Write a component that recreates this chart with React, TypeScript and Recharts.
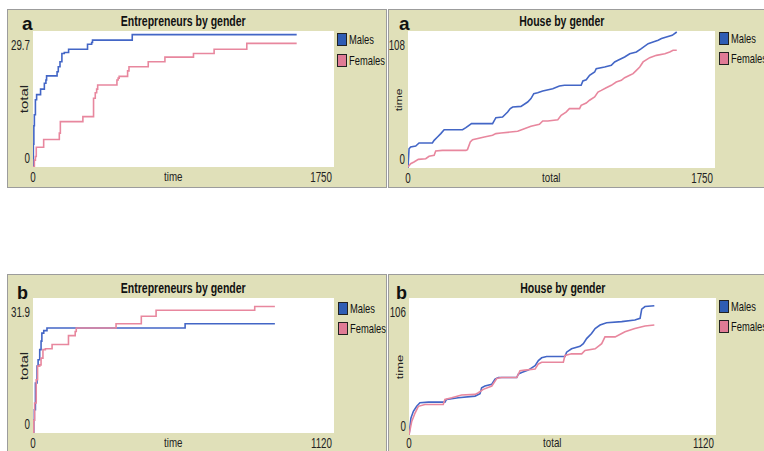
import React from 'react';
import { LineChart, Line, XAxis, YAxis, CartesianGrid } from 'recharts';

// [time, value] pairs
const ENT_A_MALES: [number, number][] = [
  [0, 0], [2, 5], [5, 9], [8, 11.4], [14, 14.7], [21, 15.8], [44, 17.0], [66, 18.3], [75, 19.0],
  [79, 19.9], [140, 20.8], [147, 21.9], [157, 23.0], [168, 24.8], [182, 25.0], [207, 25.7],
  [317, 26.8], [341, 27.2], [346, 27.7], [577, 28.9], [1533, 28.9],
];
const ENT_A_FEMALES: [number, number][] = [
  [0, 0], [8, 1.5], [14, 2.3], [19, 4.3], [62, 6.0], [153, 7.4], [159, 9.9], [290, 11.0],
  [352, 15.0], [362, 16.2], [370, 17.0], [376, 17.9], [488, 19.0], [495, 19.4], [501, 19.8],
  [550, 21.0], [558, 21.9], [670, 23.0], [767, 24.0], [933, 24.8], [1053, 25.7], [1243, 27.0],
  [1533, 27.0],
];
const HOUSE_A_MALES: [number, number][] = [
  [0, 0], [6, 15.2], [15, 16.6], [44, 17.3], [63, 19.7], [139, 19.7], [149, 21.8], [168, 24.4],
  [187, 27.1], [206, 30.2], [311, 30.2], [330, 31.8], [362, 35.0], [482, 35.0], [501, 39.7],
  [539, 40.2], [568, 44.1], [583, 46.8], [597, 48.1], [644, 48.6], [682, 52.0], [701, 54.7],
  [717, 58.6], [739, 59.4], [768, 60.7], [825, 62.5], [863, 64.6], [892, 65.2], [987, 65.2],
  [997, 68.6], [1016, 69.6], [1035, 73.1], [1064, 75.7], [1073, 78.3], [1121, 79.6],
  [1159, 80.9], [1178, 83.6], [1197, 84.9], [1235, 87.5], [1264, 90.1], [1302, 91.5],
  [1330, 94.1], [1369, 98.0], [1397, 99.3], [1426, 100.7], [1445, 102.0], [1473, 103.3],
  [1506, 104.6], [1532, 107.2],
];
const HOUSE_A_FEMALES: [number, number][] = [
  [0, 0.8], [15, 3.4], [34, 4.7], [59, 6.8], [101, 7.3], [120, 9.2], [149, 10.0], [158, 13.4],
  [196, 13.9], [330, 13.9], [339, 14.5], [355, 20.5], [368, 22.3], [435, 24.4], [482, 25.8],
  [501, 27.1], [530, 27.6], [625, 28.9], [663, 31.0], [701, 32.9], [749, 34.4], [768, 37.1],
  [797, 37.1], [854, 38.1], [873, 41.5], [901, 44.1], [920, 46.8], [978, 46.8], [987, 49.4],
  [1016, 51.2], [1035, 53.4], [1064, 56.0], [1083, 59.9], [1102, 61.2], [1130, 63.3],
  [1159, 65.2], [1187, 67.8], [1216, 69.1], [1235, 71.2], [1264, 73.1], [1283, 74.4],
  [1302, 77.0], [1321, 79.6], [1340, 83.6], [1378, 87.0], [1416, 88.8], [1464, 90.1],
  [1492, 91.5], [1511, 92.8], [1532, 92.8],
];
const ENT_B_MALES: [number, number][] = [
  [0, 0], [3, 3], [5, 5.5], [9, 11.8], [15, 15.8], [19, 17.3], [25, 19.7], [30, 21.7],
  [33, 23.6], [40, 24.2], [52, 24.8], [566, 25.8], [900, 25.8],
];
const ENT_B_FEMALES: [number, number][] = [
  [0, 0], [3, 3], [6, 7.1], [12, 12.6], [17, 15.8], [25, 16.1], [30, 17.7], [37, 19.7],
  [46, 19.9], [71, 20.9], [132, 23.0], [157, 24.0], [161, 24.8], [309, 25.8], [403, 27.6],
  [458, 29.0], [825, 29.9], [900, 29.9],
];
const HOUSE_B_MALES: [number, number][] = [
  [0, 0], [7, 13.1], [16, 18.3], [28, 22.2], [40, 24.9], [71, 25.4], [131, 25.4], [137, 27.5],
  [180, 28.8], [241, 30.1], [259, 31.9], [265, 36.6], [277, 37.9], [302, 39.3], [314, 43.2],
  [326, 44.5], [393, 44.5], [399, 47.1], [411, 48.4], [435, 50.2], [460, 53.6], [472, 57.6],
  [484, 59.7], [502, 60.7], [569, 60.7], [575, 64.1], [593, 66.7], [624, 68.6], [636, 70.7],
  [648, 74.6], [666, 78.5], [679, 82.4], [697, 85.1], [721, 86.9], [776, 87.7], [824, 89.0],
  [843, 90.3], [849, 97.4], [861, 99.4], [895, 100.0],
];
const HOUSE_B_FEMALES: [number, number][] = [
  [0, 0], [10, 10.5], [22, 17.0], [34, 22.2], [58, 23.6], [125, 23.6], [131, 27.5],
  [156, 28.8], [192, 30.9], [241, 31.4], [253, 32.7], [271, 35.3], [302, 37.9], [320, 43.7],
  [338, 44.5], [393, 44.5], [405, 49.7], [423, 50.2], [460, 51.0], [472, 55.0], [484, 56.3],
  [563, 56.3], [569, 61.5], [593, 62.8], [630, 62.8], [642, 65.4], [679, 66.7], [703, 70.7],
  [715, 75.9], [752, 75.9], [776, 78.5], [788, 79.8], [824, 82.4], [861, 84.3], [895, 85.1],
];

const X_TICKS_A = [0, 1750];
const X_TICKS_B = [0, 1120];
const Y_TICKS_ENT_A = [0, 29.7];
const Y_TICKS_HOUSE_A = [0, 108];
const Y_TICKS_ENT_B = [0, 31.9];
const Y_TICKS_HOUSE_B = [0, 106];
const SERIES_NAMES = ['Males', 'Females'];

const BLUE = '#4366c6';
const PINK = '#e8879e';
const BLUE_SWATCH = '#2f5db4';
const PINK_SWATCH = '#e07b95';
const BEIGE = '#e0e0b9';
const FONT = '"Liberation Sans", Arial, sans-serif';

const ML = 40;
const MT = 14;
const MR = 10;
const XH = 25;

const toRows = (pairs: [number, number][]) => pairs.map(([t, v]) => ({ t, v }));

// the screenshot is squeezed sideways, so text is narrowed to match
const Squeezed = ({ children, origin, k }: { children: React.ReactNode; origin: string; k: number }) => (
  <span style={{ display: 'inline-block', transform: `scaleX(${k})`, transformOrigin: origin }}>{children}</span>
);

interface PanelProps {
  letter: string;
  title: string;
  xTitle: string;
  yTitle: string;
  yTitleSize: number;
  xTicks: number[];
  yTicks: number[];
  males: [number, number][];
  females: [number, number][];
  step: boolean;
  box: { x: number; y: number; w: number; h: number };
  plot: { x: number; y: number; w: number; h: number };
  letterPos: { x: number; y: number; size: number };
  titleY: number;
  xLabelDy: number;
  legend: { x: number; y: number; gap: number };
}

function Panel(p: PanelProps) {
  const { plot, box } = p;
  const xMax = p.xTicks[p.xTicks.length - 1];
  const yMax = p.yTicks[p.yTicks.length - 1];
  const cx = plot.x + plot.w / 2;

  const xTick = (props: any) => {
    const isMax = props.payload.value === xMax;
    const tx = isMax ? props.x - 2 : props.x;
    return (
      <g transform={`translate(${tx},${MT + plot.h + p.xLabelDy}) scale(0.7,1)`}>
        <text x={0} y={0} textAnchor={isMax ? 'end' : 'middle'} dominantBaseline="central"
          fontFamily={FONT} fontSize={14} fill="#222">
          {props.payload.value}
        </text>
      </g>
    );
  };
  const yTick = (props: any) => {
    const isMax = props.payload.value === yMax;
    const ty = isMax ? props.y + 14 : props.y - 9;
    return (
      <g transform={`translate(${ML - 3},${ty}) scale(0.7,1)`}>
        <text x={0} y={0} textAnchor="end" dominantBaseline="central" fontFamily={FONT} fontSize={14} fill="#222">
          {props.payload.value}
        </text>
      </g>
    );
  };

  const type = p.step ? 'stepAfter' : 'linear';

  return (
    <>
      <div style={{ position: 'absolute', left: box.x, top: box.y, width: box.w, height: box.h, background: BEIGE, border: '1px solid #9c9c9c', boxSizing: 'border-box' }} />
      <div style={{ position: 'absolute', left: p.letterPos.x, top: p.letterPos.y, fontFamily: FONT, fontWeight: 'bold', fontSize: p.letterPos.size, lineHeight: 1, color: '#111' }}>
        {p.letter}
      </div>
      <div style={{ position: 'absolute', left: cx - 100, top: p.titleY - 9, width: 200, height: 18, lineHeight: '18px', textAlign: 'center', fontFamily: FONT, fontWeight: 'bold', fontSize: 14, color: '#111' }}>
        <Squeezed origin="center" k={0.75}>{p.title}</Squeezed>
      </div>
      <div style={{ position: 'absolute', left: plot.x - 9 - 30, top: plot.y + plot.h / 2 - 9, width: 60, height: 18, lineHeight: '18px', textAlign: 'center', transform: 'scaleX(0.75) rotate(-90deg)', fontFamily: FONT, fontSize: p.yTitleSize, color: '#222' }}>
        {p.yTitle}
      </div>
      <div style={{ position: 'absolute', left: cx - 10 - 30, top: plot.y + plot.h + p.xLabelDy - 9, width: 60, height: 18, lineHeight: '18px', textAlign: 'center', fontFamily: FONT, fontSize: 13, color: '#222' }}>
        <Squeezed origin="center" k={0.75}>{p.xTitle}</Squeezed>
      </div>
      {SERIES_NAMES.map((name, i) => (
        <div key={name} style={{ position: 'absolute', left: p.legend.x, top: p.legend.y + i * p.legend.gap, display: 'flex', alignItems: 'center', fontFamily: FONT, fontSize: 13, color: '#111', whiteSpace: 'nowrap' }}>
          <div style={{ width: 10, height: 13, boxSizing: 'border-box', border: '1px solid #222', background: i === 0 ? BLUE_SWATCH : PINK_SWATCH, marginRight: 2, flexShrink: 0 }} />
          <Squeezed origin="left center" k={0.72}>{name}</Squeezed>
        </div>
      ))}
      <div style={{ position: 'absolute', left: plot.x - ML, top: plot.y - MT }}>
        <LineChart width={plot.w + ML + MR} height={plot.h + MT + XH} margin={{ top: MT, right: MR, left: 0, bottom: 0 }}>
          <CartesianGrid fill="#ffffff" stroke="none" horizontal={false} vertical={false} />
          <XAxis dataKey="t" type="number" domain={[0, xMax]} ticks={p.xTicks} height={XH}
            axisLine={false} tickLine={false} tick={xTick} interval={0} allowDataOverflow />
          <YAxis type="number" domain={[0, yMax]} ticks={p.yTicks} width={ML}
            axisLine={false} tickLine={false} tick={yTick} interval={0} allowDataOverflow />
          <Line data={toRows(p.males)} dataKey="v" name="Males" type={type} stroke={BLUE}
            strokeWidth={1.6} dot={false} isAnimationActive={false} />
          <Line data={toRows(p.females)} dataKey="v" name="Females" type={type} stroke={PINK}
            strokeWidth={1.6} dot={false} isAnimationActive={false} />
        </LineChart>
      </div>
    </>
  );
}

export default function App() {
  return (
    <div style={{ position: 'absolute', left: 0, top: 0, width: 764, height: 451, overflow: 'hidden', background: '#fff' }}>
      <Panel letter="a" title="Entrepreneurs by gender" xTitle="time" yTitle="total" yTitleSize={15}
        xTicks={X_TICKS_A} yTicks={Y_TICKS_ENT_A} males={ENT_A_MALES} females={ENT_A_FEMALES} step
        box={{ x: 7, y: 9, w: 380, h: 179 }} plot={{ x: 33, y: 31, w: 301, h: 136 }} xLabelDy={10}
        letterPos={{ x: 22, y: 14, size: 19 }} titleY={21} legend={{ x: 337, y: 32, gap: 21 }} />
      <Panel letter="a" title="House by gender" xTitle="total" yTitle="time" yTitleSize={12}
        xTicks={X_TICKS_A} yTicks={Y_TICKS_HOUSE_A} males={HOUSE_A_MALES} females={HOUSE_A_FEMALES} step={false}
        box={{ x: 388, y: 9, w: 400, h: 179 }} plot={{ x: 408, y: 31, w: 307, h: 137 }} xLabelDy={10}
        letterPos={{ x: 399, y: 14, size: 19 }} titleY={21} legend={{ x: 719, y: 31, gap: 20 }} />
      <Panel letter="b" title="Entrepreneurs by gender" xTitle="time" yTitle="total" yTitleSize={15}
        xTicks={X_TICKS_B} yTicks={Y_TICKS_ENT_B} males={ENT_B_MALES} females={ENT_B_FEMALES} step
        box={{ x: 7, y: 274, w: 380, h: 200 }} plot={{ x: 33, y: 298, w: 301, h: 135 }} xLabelDy={10}
        letterPos={{ x: 17, y: 284, size: 18 }} titleY={288} legend={{ x: 338, y: 301, gap: 20 }} />
      <Panel letter="b" title="House by gender" xTitle="total" yTitle="time" yTitleSize={13}
        xTicks={X_TICKS_B} yTicks={Y_TICKS_HOUSE_B} males={HOUSE_B_MALES} females={HOUSE_B_FEMALES} step={false}
        box={{ x: 388, y: 274, w: 400, h: 200 }} plot={{ x: 409, y: 298, w: 307, h: 137 }} xLabelDy={8}
        letterPos={{ x: 396, y: 284, size: 18 }} titleY={288} legend={{ x: 719, y: 299, gap: 20 }} />
    </div>
  );
}
